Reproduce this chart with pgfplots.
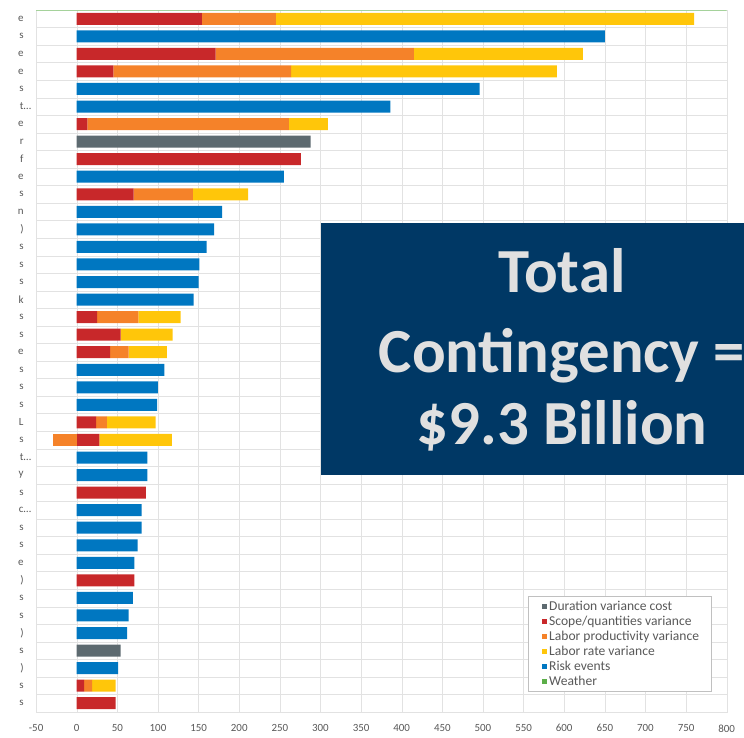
\documentclass[border=0pt]{standalone}
\usepackage{pgfplots}
\pgfplotsset{compat=1.18}
\usepackage{pgfplotstable}
\usepackage{fontspec}
\setmainfont{Carlito}

\definecolor{cgray}{HTML}{5D6A70}
\definecolor{cred}{HTML}{C8282A}
\definecolor{corange}{HTML}{F58229}
\definecolor{cyellow}{HTML}{FFC60A}
\definecolor{cblue}{HTML}{0077C1}
\definecolor{cgreen}{HTML}{5CAE49}
\definecolor{navy}{HTML}{003865}
\definecolor{boxtext}{HTML}{E0E0E0}
\definecolor{gridc}{HTML}{E2E2E2}
\definecolor{labc}{HTML}{595959}
\definecolor{legc}{HTML}{C0C0C0}

% one row per category, top to bottom; values are segment lengths
\pgfplotstableread{
row gray red orange yellow blue
1  0   154 91  515 0
2  0   0   0   0   650
3  0   171 244 208 0
4  0   45  219 327 0
5  0   0   0   0   496
6  0   0   0   0   386
7  0   13  248 48  0
8  288 0   0   0   0
9  0   276 0   0   0
10 0   0   0   0   255
11 0   70  73  68  0
12 0   0   0   0   179
13 0   0   0   0   169
14 0   0   0   0   160
15 0   0   0   0   151
16 0   0   0   0   150
17 0   0   0   0   144
18 0   25  51  52  0
19 0   54  0   64  0
20 0   41  23  47  0
21 0   0   0   0   108
22 0   0   0   0   100
23 0   0   0   0   99
24 0   24  13  60  0
25 0   28  0   89  0
26 0   0   0   0   87
27 0   0   0   0   87
28 0   85  0   0   0
29 0   0   0   0   80
30 0   0   0   0   80
31 0   0   0   0   75
32 0   0   0   0   71
33 0   71  0   0   0
34 0   0   0   0   69
35 0   0   0   0   64
36 0   0   0   0   62
37 54  0   0   0   0
38 0   0   0   0   51
39 0   9   10  29  0
40 0   48  0   0   0
}\costs

\pgfplotsset{
  base/.style={
    at={(36.1bp,26bp)}, anchor=south west, scale only axis,
    width=690.6bp, height=702bp,
    xmin=-50, xmax=800, ymin=0.5, ymax=40.5, y dir=reverse,
  },
  sqleg/.style={legend image code/.code={%
    \path (0bp,0bp) (9bp,0bp);
    \fill[##1, draw=none] (4bp,-2.5bp) rectangle (9bp,2.5bp);}},
}

\begin{document}
\begin{tikzpicture}[x=1bp,y=1bp]
\begin{axis}[base, xbar stacked, bar width=12bp,
  xtick={-50,0,...,800}, ytick={1,...,40},
  yticklabels={e,s,e,e,s,t\rlap{\ldots},e,r,f,e,s,n,),s,s,s,k,s,s,e,s,s,s,L,s,t\rlap{\ldots},y,s,c\rlap{\ldots},s,s,e,),s,s,),s,),s,s},
  minor ytick={1.5,2.5,...,39.5},
  xmajorgrids, yminorgrids,
  major grid style={gridc}, minor grid style={gridc},
  major tick length=0, minor tick length=0,
  axis line style={gridc},
  tick label style={font=\fontsize{11}{11}\selectfont, text=labc},
  xticklabel style={yshift=-9bp}, yticklabel style={xshift=-9bp},
  /pgf/number format/assume math mode=true,
  legend style={at={(0.7123,0.1652)}, anchor=north west, draw=legc, fill=white,
    font=\fontsize{13.6}{13.6}\selectfont, text=labc, inner xsep=10bp, inner ysep=3bp,
    row sep=0bp},
  legend cell align=left,
]
\addplot[fill=cgray, draw=none, forget plot] table[x=gray, y=row]{\costs};
\addplot[fill=cred, draw=none, forget plot] table[x=red, y=row]{\costs};
\addplot[fill=corange, draw=none, forget plot] table[x=orange, y=row]{\costs};
\addplot[fill=cyellow, draw=none, forget plot] table[x=yellow, y=row]{\costs};
\addplot[fill=cblue, draw=none, forget plot] table[x=blue, y=row]{\costs};
\addlegendimage{sqleg, fill=cgray, draw=none}\addlegendentry{Duration variance cost}
\addlegendimage{sqleg, fill=cred, draw=none}\addlegendentry{Scope/quantities variance}
\addlegendimage{sqleg, fill=corange, draw=none}\addlegendentry{Labor productivity variance}
\addlegendimage{sqleg, fill=cyellow, draw=none}\addlegendentry{Labor rate variance}
\addlegendimage{sqleg, fill=cblue, draw=none}\addlegendentry{Risk events}
\addlegendimage{sqleg, fill=cgreen, draw=none}\addlegendentry{Weather}
\draw[cgreen!55] (axis description cs:0,1) -- (axis description cs:1,1);
\end{axis}
% the one negative segment, stacked left of zero
\begin{axis}[base, xbar, bar width=12bp, hide axis]
\addplot[fill=corange, draw=none] coordinates {(-29,25)};
\end{axis}
\fill[navy] (321,263) rectangle (780,515.3);
\begin{scope}[every node/.style={anchor=base, inner sep=0, text=boxtext,
    font=\bfseries\fontsize{63}{63}\selectfont}]
\node at (562,445) {Total};
\node at (562,365) {Contingency =};
\node at (562,293) {\$9.3 Billion};
\end{scope}
\pgfresetboundingbox
\useasboundingbox (0,0) rectangle (744,738);
\end{tikzpicture}
\end{document}
